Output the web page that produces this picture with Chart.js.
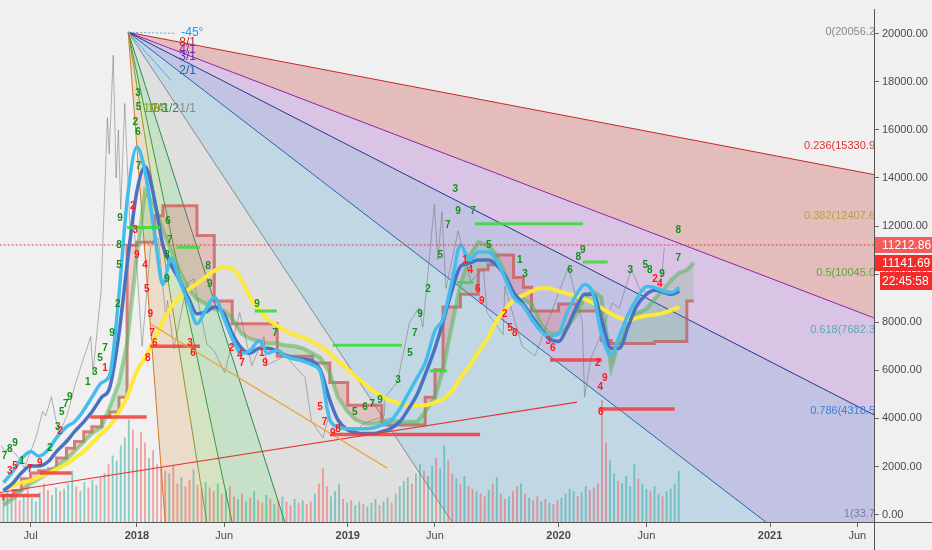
<!DOCTYPE html>
<html>
<head>
<meta charset="utf-8">
<script src="https://cdn.jsdelivr.net/npm/chart.js@4.4.0/dist/chart.umd.min.js"></script>
<style>
  html, body { margin: 0; padding: 0; background: #f0f0f0; }
  #wrap { width: 932px; height: 550px; position: relative; }
</style>
</head>
<body>
<div id="wrap"><canvas id="btcChart"></canvas></div>
<script>
// all x values are days since 2018-01-01
const tickDays = [-184, 0, 151, 365, 516, 730, 882, 1096, 1247];
const tickLabels = ['Jul', '2018', 'Jun', '2019', 'Jun', '2020', 'Jun', '2021', 'Jun'];
const tickBold = [false, true, false, true, false, true, false, true, false];
const yTicks = [0, 2000, 4000, 6000, 8000, 10000, 12000, 14000, 16000, 18000, 20000];

// semi-monthly sample days for the indicator lines
const days = [-231,-214,-200,-184,-170,-153,-139,-122,-108,-92,-78,-61,-47,-31,-17,
  0,14,31,45,59,73,90,104,120,134,151,165,181,195,212,226,243,257,273,287,304,318,334,348,
  365,379,396,410,424,438,455,469,485,499,516,530,546,560,577,591,608,622,638,652,669,683,699,713,
  730,744,761,775,790,804,821,835,851,865,882,896,912,926,939,952,964];

const cyanVals = [1330,1820,2310,2630,2430,2710,3200,3650,3860,4350,4880,5490,5820,9160,13040,
  15290,14270,11610,9570,10670,9780,8760,7940,8550,9040,8140,7330,6710,6800,7240,6710,6840,6590,6470,6390,6220,5900,3940,3650,
  3570,3570,3570,3610,3730,3860,4390,5000,5690,6310,7650,8140,9780,11200,10590,10920,10920,10590,9780,9040,8670,8140,7650,7410,
  7530,8350,9160,9570,9160,7530,6630,7410,8350,8960,9490,9450,9290,9240,9450];

const blueVals = [1000,1330,1730,2020,2020,2220,2630,3040,3450,3860,4270,4880,5290,7530,10390,
  13450,14470,13040,11200,10390,9780,8960,8350,8430,8630,8350,7530,6920,6710,6920,6920,6800,6630,6510,6470,6390,5980,4760,3940,
  3530,3410,3370,3370,3450,3570,3860,4350,5000,5820,6920,8020,9370,10310,10470,10590,10590,10390,9900,9240,8760,8270,7730,7330,
  7200,7730,8630,9160,9160,8140,6920,6920,7860,8670,9160,9330,9240,9160,9290];

const yellowVals = [1040,1200,1330,1410,1570,1730,1900,2100,2350,2630,2960,3370,3690,4270,4880,
  5980,6510,7330,8020,8630,9000,9370,9610,9900,10140,10310,10220,9780,9080,8510,8140,7860,7650,7490,7370,7200,7000,6710,6390,
  6060,5730,5410,5120,4920,4750,4630,4550,4550,4550,4670,4800,5160,5690,6220,6760,7370,8020,8550,8920,9120,9290,9410,9410,
  9290,9200,9080,8960,8790,8590,8350,8180,8100,8180,8270,8310,8390,8510,8630];

const spanAVals = [390,670,1000,1290,1490,1730,2020,2310,2630,3040,3370,3650,4470,5490,7120,
  10800,13450,12840,11820,11000,10180,9370,8960,8760,8550,8470,8140,7530,7330,7200,7120,7120,7040,7000,6920,6710,6510,5900,4880,
  4270,3940,3780,3780,3860,3940,3860,3860,3860,4270,4880,6020,7940,9570,10800,11330,11200,10800,9980,9160,8960,8760,7940,7530,
  7530,7730,8350,9040,9290,9040,6100,7240,7940,8350,8550,8960,9370,9780,10060,10180,10470];

const spanBVals = [590,800,1000,1490,1730,1820,1900,2350,2760,3040,3450,3650,4060,4270,4880,
  11200,11330,11330,12430,12840,12840,12840,12840,11610,11610,8880,8880,7940,7940,7940,7940,7940,6590,6590,6590,6590,6310,6310,5490,
  5490,4550,4550,4550,4550,3730,3730,3730,3730,3730,4880,6020,8630,8630,9160,9160,10180,10390,10800,10800,9860,9450,8470,8470,
  8470,8760,8760,8470,8470,8470,7240,7120,7120,7120,7120,7120,7200,7200,7200,7200,8880];

// lagging close line
const lagDays = [-235,-229,-221,-209,-195,-175,-163,-158,-148,-135,-120,-107,-99,-80,-76,-62,-51,-48,-41,-36,-32,-28,-21,-11,-7,
  9,24,37,50,53,64,87,98,121,134,152,178,199,220,224,256,261,291,302,322,331,348,
  376,393,428,430,451,472,488,495,515,521,528,535,556,578,600,606,634,637,667,689,722,
  747,771,775,786,800,823,835,856,870,886,907,913];
const lagVals = [2870,2650,2750,2500,1930,3200,4300,4100,4900,3300,4200,5400,6000,7400,5900,9300,16500,15000,19100,14000,16000,12700,17100,11300,12800,
  7000,11200,11500,8200,8900,6900,9600,9800,7100,6800,5900,8400,6200,7400,6200,6600,6500,5700,3900,3200,4000,3600,
  3400,3800,4100,4900,5500,8000,8600,7800,12900,10600,12600,9400,11800,9700,10200,8400,7500,9500,7000,6600,8700,
  10300,8000,4900,6500,7300,8800,8600,10200,9400,9200,9500,11100];

// weekly volume, first bar on day -238
const volStart = -238;
const volVals = [18,22,26,20,24,17,21,28,19,16,23,30,25,21,27,24,
  26,30,40,28,24,31,27,33,29,35,
  38,45,52,48,60,66,80,72,
  58,70,62,50,56,45,42,
  40,38,44,30,35,28,33,41,29,26,31,27,24,30,22,25,28,
  20,18,22,16,19,24,17,15,21,18,14,17,20,16,13,18,15,17,14,16,22,30,42,28,20,
  24,30,18,15,17,13,16,14,12,15,18,13,16,19,15,22,
  28,32,35,30,38,45,40,36,44,50,42,60,48,38,34,30,36,28,
  26,24,22,20,25,30,35,22,18,20,24,28,30,22,19,17,20,16,18,15,14,17,19,
  22,26,24,20,23,28,25,27,30,
  95,62,48,38,
  32,30,36,28,45,34,30,26,24,28,22,20,24,26,30,40];
const volDir = 'rgggrrgrgggrrggrgggrggrggrgrgggggrgrrgrrrrgrrgrrgrrgrrgrgrrgrgrgrrgrgrgrrgrgrrgrrrgggrgrggrgggrggrggggrggrggrggrrgrgrrgrrgrgrrgrrgrgrrgrgrrggggrggrrrrrggrggggrggrggrgggg';

// gann fan from the top
const fanOrigin = [-15, 20056];
const fanNames = ['8/1', '4/1', '3/1', '2/1', '1/1', '1/2', '1/3', '1/4', '1/8'];
const fanEnds = [[1276, 14140], [1276, 8180], [1276, 4150], [1072, 0], [537, 0], [252, 0], [162, 0], [119, 0], [48, 0]];

// fib retracement levels
const fibLevels = [20056.24, 15330.9, 12407.6, 10045.0, 7682.3, 4318.5, 33.7];
const fibTexts = ['0(20056.2', '0.236(15330.9', '0.382(12407.6', '0.5(10045.0', '0.618(7682.3', '0.786(4318.5', '1(33.7'];

// horizontal levels
const greenLvlFrom = [-17, 69, 204, 339, 585, 772, 554, 507];
const greenLvlTo = [40, 109, 242, 459, 772, 815, 582, 537];
const greenLvlVal = [11940, 11120, 8470, 7040, 12100, 10510, 9650, 5980];
const redLvlFrom = [-237, -168, -81, 23, 334, 715, 802];
const redLvlTo = [-168, -113, 17, 109, 594, 805, 931];
const redLvlVal = [800, 1730, 4060, 7000, 3330, 6430, 4390];

// trend lines [day1, val1, day2, val2]
const trendRed = [-237, 920, 762, 4680];
const trendOrange = [23, 7940, 433, 1940];

// TD counts
const tdUpDays = [-229,-220,-211,-199,-151,-137,-130,-123,-116,-85,-73,-64,-55,-43,-33,-31,-31,-29,2,3,-3,2,3,54,57,52,52,123,126,208,239,377,395,407,421,452,473,481,490,504,525,538,551,556,582,609,663,672,750,764,772,854,880,888,909,937,937];
const tdUpVals = [2430,2710,2960,2220,2760,3650,4270,4590,4880,5490,5900,6510,6920,7530,8760,10390,11200,12310,17530,16920,16310,15900,14470,12220,11410,10800,9780,10310,9570,8760,7530,4270,4470,4590,4760,5570,6710,7530,8350,9370,10800,12020,13530,12630,12630,11200,10590,9980,10180,10710,11000,10180,10390,10180,9980,11820,10670];
const tdUpText = '789123579135792589352676789899756793579257397513689358987';
const tdDnDays = [-220,-211,-185,-168,-133,-55,-7,-3,0,14,17,23,26,31,19,92,97,164,178,182,216,222,317,325,339,348,568,577,590,597,637,646,654,712,720,798,802,803,810,897,905];
const tdDnVals = [1820,2020,1900,2140,3450,6100,12840,11820,10800,10390,9370,8350,7530,7120,6510,7120,6710,6920,6630,6310,6710,6310,4470,3860,3370,3530,10590,10180,9370,8880,8350,7730,7530,7200,6920,6310,5290,4270,5690,9780,9570];
const tdDnText = '35792123945976836247195798146925836246924';

const lastClose = 11212.86;
const priceTags = ['11212.86', '11141.69', '22:45:58'];

const pts = (xs, vs) => vs.map((v, i) => ({ x: xs[i], y: v }));

const fanColors = ['#c62828', '#8e24aa', '#283593', '#2366a8', '#8a8a8a', '#2e8b57', '#3c9a3c', '#8d9a2a', '#d07a2a'];
const fanFills = ['rgba(205,70,70,0.30)', 'rgba(150,70,200,0.26)', 'rgba(70,70,190,0.27)', 'rgba(50,140,190,0.25)',
  'rgba(128,128,128,0.15)', 'rgba(76,175,80,0.25)', 'rgba(139,195,74,0.28)', 'rgba(215,150,60,0.22)'];
const fibColors = ['#8a8a8a', '#e03030', '#b8a048', '#5aa83c', '#5ba8b4', '#3d7fd6', '#7a7aa0'];

const bgPlugin = {
  id: 'bg',
  beforeDraw(chart) {
    const ctx = chart.ctx;
    ctx.save();
    ctx.fillStyle = '#f0f0f0';
    ctx.fillRect(0, 0, chart.width, chart.height);
    ctx.restore();
  }
};

const fanPlugin = {
  id: 'fan',
  beforeDatasetsDraw(chart) {
    const { ctx, chartArea: a, scales: { x, y } } = chart;
    const ox = x.getPixelForValue(fanOrigin[0]), oy = y.getPixelForValue(fanOrigin[1]);
    const far = fanEnds.map(e => {
      const px = x.getPixelForValue(e[0]), py = y.getPixelForValue(e[1]);
      return [ox + (px - ox) * 20, oy + (py - oy) * 20];
    });
    ctx.save();
    ctx.beginPath(); ctx.rect(a.left, a.top, a.width, a.height); ctx.clip();
    fanFills.forEach((c, i) => {
      ctx.beginPath();
      ctx.moveTo(ox, oy); ctx.lineTo(far[i][0], far[i][1]); ctx.lineTo(far[i + 1][0], far[i + 1][1]);
      ctx.closePath();
      ctx.fillStyle = c; ctx.fill();
    });
    far.forEach((p, i) => {
      ctx.beginPath(); ctx.moveTo(ox, oy); ctx.lineTo(p[0], p[1]);
      ctx.strokeStyle = fanColors[i]; ctx.lineWidth = 1; ctx.stroke();
    });
    // little -45 marker lines
    ctx.setLineDash([2, 2]);
    ctx.strokeStyle = '#5aa9e6';
    ctx.beginPath(); ctx.moveTo(ox, oy); ctx.lineTo(x.getPixelForValue(66), y.getPixelForValue(20010)); ctx.stroke();
    ctx.setLineDash([]);
    ctx.beginPath(); ctx.moveTo(ox, oy); ctx.lineTo(x.getPixelForValue(59), y.getPixelForValue(18060)); ctx.stroke();
    ctx.restore();
  }
};

const overlayPlugin = {
  id: 'overlay',
  afterDatasetsDraw(chart) {
    const { ctx, chartArea: a, scales: { x, y } } = chart;
    ctx.save();
    ctx.beginPath(); ctx.rect(a.left, a.top, a.width, a.height); ctx.clip();

    const seg = (d1, v1, d2, v2, color, w) => {
      ctx.beginPath();
      ctx.moveTo(x.getPixelForValue(d1), y.getPixelForValue(v1));
      ctx.lineTo(x.getPixelForValue(d2), y.getPixelForValue(v2));
      ctx.strokeStyle = color; ctx.lineWidth = w; ctx.stroke();
    };
    greenLvlVal.forEach((v, i) => seg(greenLvlFrom[i], v, greenLvlTo[i], v, 'rgba(60,220,60,0.9)', 3));
    redLvlVal.forEach((v, i) => seg(redLvlFrom[i], v, redLvlTo[i], v, 'rgba(240,60,60,0.85)', 3.5));
    seg(trendRed[0], trendRed[1], trendRed[2], trendRed[3], '#e53935', 1.2);
    seg(trendOrange[0], trendOrange[1], trendOrange[2], trendOrange[3], '#f0a030', 1.2);

    ctx.setLineDash([2, 2]);
    seg(-300, lastClose, 1300, lastClose, '#e53935', 1);
    ctx.setLineDash([]);

    // TD sequential digits
    ctx.font = 'bold 10px "Liberation Sans", Arial, sans-serif';
    ctx.textAlign = 'center'; ctx.textBaseline = 'middle';
    ctx.fillStyle = '#14901a';
    tdUpDays.forEach((d, i) => ctx.fillText(tdUpText[i], x.getPixelForValue(d), y.getPixelForValue(tdUpVals[i])));
    ctx.fillStyle = '#ff1a1a';
    tdDnDays.forEach((d, i) => ctx.fillText(tdDnText[i], x.getPixelForValue(d), y.getPixelForValue(tdDnVals[i])));

    // fib labels
    ctx.font = '11px "Liberation Sans", Arial, sans-serif';
    ctx.textAlign = 'right';
    fibLevels.forEach((v, i) => {
      ctx.fillStyle = fibColors[i];
      ctx.fillText(fibTexts[i], a.right + 1, y.getPixelForValue(v));
    });

    // fan labels near the origin
    const ox = x.getPixelForValue(fanOrigin[0]), oy = y.getPixelForValue(fanOrigin[1]);
    ctx.font = '12px "Liberation Sans", Arial, sans-serif';
    ctx.textAlign = 'left';
    ctx.fillStyle = '#2196f3'; ctx.fillText('-45°', ox + 53, oy);
    ctx.fillStyle = fanColors[0]; ctx.fillText(fanNames[0], ox + 51, oy + 10);
    ctx.fillStyle = fanColors[1]; ctx.fillText(fanNames[1], ox + 51, oy + 17);
    ctx.fillStyle = '#5e35b1'; ctx.fillText(fanNames[2], ox + 51, oy + 24);
    ctx.fillStyle = fanColors[3]; ctx.fillText(fanNames[3], ox + 51, oy + 38);
    ctx.fillStyle = '#8a8a8a'; ctx.fillText(fanNames[4], ox + 51, oy + 76);
    ctx.fillStyle = fanColors[5]; ctx.fillText(fanNames[5], ox + 34, oy + 76);
    ctx.fillStyle = fanColors[6]; ctx.fillText(fanNames[6], ox + 23, oy + 76);
    ctx.fillStyle = fanColors[7]; ctx.fillText(fanNames[7], ox + 19, oy + 76);
    ctx.fillStyle = '#8aa020'; ctx.fillText(fanNames[8], ox + 15, oy + 76);
    ctx.restore();
  },
  afterDraw(chart) {
    const { ctx, chartArea: a, scales: { y } } = chart;
    ctx.save();
    ctx.strokeStyle = '#555'; ctx.lineWidth = 1;
    ctx.beginPath();
    ctx.moveTo(a.right + 0.5, a.bottom); ctx.lineTo(a.right + 0.5, chart.height);
    ctx.moveTo(a.right, a.bottom + 0.5); ctx.lineTo(chart.width, a.bottom + 0.5);
    ctx.stroke();

    const cy = Math.round(y.getPixelForValue(lastClose));
    const boxes = [[cy - 8, 16, '#f45b5b'], [cy + 10, 16, '#f52a2a'], [cy + 27, 18, '#f52a2a']];
    ctx.font = '12px "Liberation Sans", Arial, sans-serif';
    ctx.textAlign = 'left'; ctx.textBaseline = 'middle';
    boxes.forEach((b, i) => {
      const left = i === 2 ? a.right + 6 : a.right + 1;
      ctx.fillStyle = b[2];
      ctx.fillRect(left, b[0], chart.width - left, b[1]);
      ctx.fillStyle = '#ffffff';
      ctx.fillText(priceTags[i], a.right + 8, b[0] + b[1] / 2 + 1);
    });
    ctx.restore();
  }
};

const axisFont = { family: '"Liberation Sans", Arial, sans-serif', size: 11 };

new Chart(document.getElementById('btcChart'), {
  type: 'line',
  data: {
    datasets: [
      {
        type: 'bar', label: 'Volume', yAxisID: 'yv', order: 10,
        data: volVals.map((v, i) => ({ x: volStart + 7 * i, y: v })),
        backgroundColor: volVals.map((v, i) => volDir[i] === 'g' ? 'rgba(38,166,154,0.5)' : 'rgba(239,83,80,0.5)'),
        barPercentage: 0.45, categoryPercentage: 1
      },
      {
        label: 'Span B', data: pts(days, spanBVals), order: 9,
        borderColor: 'rgba(200,80,80,0.7)', borderWidth: 3, stepped: 'after', pointRadius: 0, fill: false
      },
      {
        label: 'Span A', data: pts(days, spanAVals), order: 8,
        borderColor: 'rgba(90,180,90,0.55)', borderWidth: 4, pointRadius: 0, tension: 0,
        fill: { target: 1, above: 'rgba(76,175,80,0.18)', below: 'rgba(240,80,80,0.22)' }
      },
      {
        label: 'Lagging', data: pts(lagDays, lagVals), order: 7,
        borderColor: 'rgba(110,110,110,0.5)', borderWidth: 1, pointRadius: 0, fill: false
      },
      {
        label: 'Yellow', data: pts(days, yellowVals), order: 6,
        borderColor: '#fde93a', borderWidth: 4, pointRadius: 0, cubicInterpolationMode: 'monotone', fill: false
      },
      {
        label: 'Blue', data: pts(days, blueVals), order: 5,
        borderColor: '#4a72c2', borderWidth: 3.5, pointRadius: 0, cubicInterpolationMode: 'monotone', fill: false
      },
      {
        label: 'Cyan', data: pts(days, cyanVals), order: 4,
        borderColor: '#45bdec', borderWidth: 3.5, pointRadius: 0, cubicInterpolationMode: 'monotone', fill: false
      }
    ]
  },
  options: {
    responsive: true,
    maintainAspectRatio: false,
    animation: false,
    devicePixelRatio: 1,
    layout: { padding: 0 },
    plugins: { legend: { display: false }, tooltip: { enabled: false } },
    scales: {
      x: {
        type: 'linear', min: -237, max: 1276, offset: false,
        afterBuildTicks: s => { s.ticks = tickDays.map(v => ({ value: v })); },
        afterFit: s => { s.height = 28; },
        ticks: {
          autoSkip: false, maxRotation: 0, padding: 2, color: '#4a4a4a',
          font: c => ({ ...axisFont, weight: tickBold[c.index] ? 'bold' : 'normal' }),
          callback: (v, i) => tickLabels[i]
        },
        grid: { offset: false, drawOnChartArea: false, drawTicks: true, tickLength: 5, color: '#666' },
        border: { display: true, color: '#555' }
      },
      y: {
        type: 'linear', position: 'right', min: -306, max: 21000,
        afterBuildTicks: s => { s.ticks = yTicks.map(v => ({ value: v })); },
        afterFit: s => { s.width = 58; },
        ticks: { color: '#4a4a4a', font: axisFont, padding: 3, callback: v => Number(v).toFixed(2) },
        grid: { drawOnChartArea: false, drawTicks: true, tickLength: 5, color: '#666' },
        border: { display: true, color: '#555' }
      },
      yv: { display: false, min: 0, max: 400 }
    }
  },
  plugins: [bgPlugin, fanPlugin, overlayPlugin]
});
</script>
</body>
</html>
